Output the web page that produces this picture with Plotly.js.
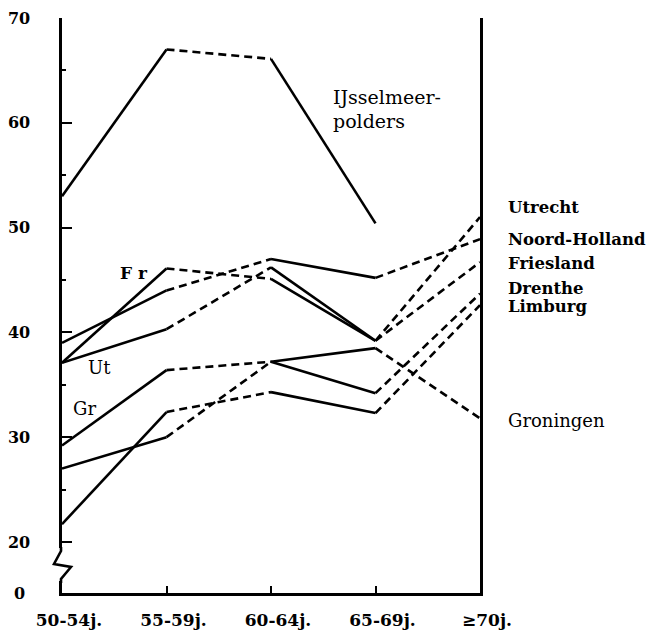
<!DOCTYPE html>
<html>
<head>
<meta charset="utf-8">
<script src="https://cdn.plot.ly/plotly-3.0.1.min.js"></script>
<style>html,body{margin:0;padding:0;background:#fff;}</style>
</head>
<body>
<div id="chart" style="width:656px;height:632px;"></div>
<script>
// Categories (age groups)
const categories = ['50-54j.', '55-59j.', '60-64j.', '65-69j.', '≥70j.'];

// Series values
const ijsselmeerpolders = [53.0, 67.0, 66.1, 50.4, null];
const utrecht          = [37.1, 40.3, 46.2, 39.2, 51.0];
const noordHolland     = [39.0, 44.0, 47.0, 45.2, 48.9];
const friesland        = [37.1, 46.1, 45.1, 39.2, 46.7];
const drenthe          = [27.0, 30.0, 37.2, 34.2, 43.7];
const limburg          = [21.7, 32.4, 34.3, 32.3, 42.6];
const groningen        = [29.2, 36.4, 37.2, 38.5, 31.8];

// Y tick labels (axis broken between 0 and 20)
const yTickValues = [20, 30, 40, 50, 60, 70];
const yTickLabels = ['20', '30', '40', '50', '60', '70'];
const yBottomLabel = '0';

const seriesList = [
  {name: 'IJsselmeerpolders', values: ijsselmeerpolders},
  {name: 'Utrecht', values: utrecht},
  {name: 'Noord-Holland', values: noordHolland},
  {name: 'Friesland', values: friesland},
  {name: 'Drenthe', values: drenthe},
  {name: 'Limburg', values: limburg},
  {name: 'Groningen', values: groningen}
];

const yMin = 15.13, yMax = 70;
const traces = [];
seriesList.forEach(s => {
  for (let i = 0; i < categories.length - 1; i++) {
    if (s.values[i] == null || s.values[i + 1] == null) continue;
    traces.push({
      type: 'scatter', mode: 'lines', name: s.name, showlegend: false,
      x: [categories[i], categories[i + 1]],
      y: [s.values[i], s.values[i + 1]],
      line: {color: '#000', width: 2.6, dash: (i % 2 === 1) ? '8px,5px' : 'solid'},
      hoverinfo: 'x+y+name'
    });
  }
});

const serif = 'DejaVu Serif, Liberation Serif, serif';
const lab = (text, x, y, bold, size) => ({
  text: bold ? '<b>' + text + '</b>' : text, x: x, y: y, xref: 'paper', yref: 'paper',
  xanchor: 'left', yanchor: 'middle', showarrow: false,
  font: {family: serif, size: size, color: '#000'}
});
// paper coordinate helpers from plot pixel geometry
const L = 62, T = 18, W = 418, H = 575;
const px = p => (p - L) / W;
const py = p => (T + H - p) / H;

const annotations = [
  lab('IJsselmeer-', px(331), py(97), false, 19),
  lab('polders', px(331), py(121), false, 19),
  lab('F r', px(118), py(273), true, 17),
  lab('Ut', px(86), py(367), false, 18),
  lab('Gr', px(71), py(409), false, 18),
  lab('Utrecht', px(506), py(207), true, 16.5),
  lab('Noord-Holland', px(506), py(239), true, 16.5),
  lab('Friesland', px(506), py(263), true, 16.5),
  lab('Drenthe', px(506), py(288), true, 16.5),
  lab('Limburg', px(506), py(306), true, 16.5),
  lab('Groningen', px(506), py(420), false, 18),
  {text: '<b>' + yBottomLabel + '</b>', x: px(19), y: 0, xref: 'paper', yref: 'paper',
   xanchor: 'center', yanchor: 'middle', showarrow: false,
   font: {family: serif, size: 16, color: '#000'}}
];

const shapes = [
  // white gap in the left axis line for the break
  {type: 'rect', xref: 'paper', yref: 'paper', x0: px(57), x1: px(67), y0: py(581), y1: py(548),
   fillcolor: '#fff', line: {width: 0}, layer: 'above'},
  // zigzag break symbol
  {type: 'path', xref: 'paper', yref: 'paper', layer: 'above',
   path: 'M' + px(61) + ',' + py(547) + ' L' + px(61) + ',' + py(551) + ' L' + px(54) + ',' + py(564) +
         ' L' + px(71) + ',' + py(567) + ' L' + px(61) + ',' + py(579) + ' L' + px(61) + ',' + py(583),
   line: {color: '#000', width: 2.6}}
];

const layout = {
  width: 656, height: 632,
  margin: {l: L, r: 656 - L - W, t: T, b: 632 - T - H, pad: 0},
  paper_bgcolor: '#fff', plot_bgcolor: '#fff',
  showlegend: false,
  xaxis: {
    type: 'category', categoryorder: 'array', categoryarray: categories,
    range: [0, categories.length - 1],
    showgrid: false, zeroline: false,
    showline: true, linecolor: '#000', linewidth: 2.6,
    ticks: 'inside', ticklen: 7, tickwidth: 2, tickcolor: '#000',
    ticklabelstandoff: 10, ticklabelshift: 7,
    tickfont: {family: serif, size: 17, color: '#000', weight: 'bold'}
  },
  yaxis: {
    range: [yMin, yMax], fixedrange: true,
    tickvals: yTickValues, ticktext: yTickLabels,
    showgrid: false, zeroline: false,
    showline: true, mirror: true, linecolor: '#000', linewidth: 2.6,
    ticks: 'inside', ticklen: 10, tickwidth: 2, tickcolor: '#000',
    minor: {dtick: 5, tick0: 0, ticks: 'inside', ticklen: 4, tickwidth: 2, tickcolor: '#000'},
    ticklabelstandoff: 26,
    tickfont: {family: serif, size: 16, color: '#000', weight: 'bold'}
  },
  annotations: annotations,
  shapes: shapes
};

Plotly.newPlot('chart', traces, layout, {displayModeBar: false, staticPlot: true});
</script>
</body>
</html>
